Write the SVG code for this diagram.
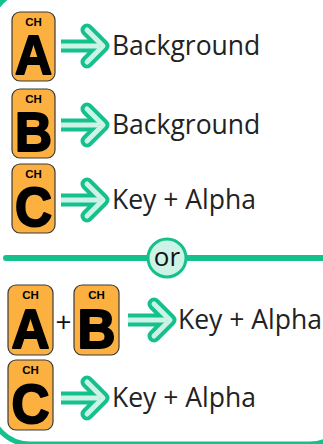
<svg xmlns="http://www.w3.org/2000/svg" xmlns:xlink="http://www.w3.org/1999/xlink" width="323" height="444" viewBox="0 0 323 444">
<style>
.badge{fill:#fbb040;stroke:#3a3a3a;stroke-width:1.2}
.ch{font-family:"Liberation Sans",Arial,sans-serif;font-weight:bold;font-size:11.5px;fill:#000;text-anchor:middle}
.big{font-family:"Liberation Sans",Arial,sans-serif;font-weight:bold;font-size:55px;fill:#000;stroke:#000;stroke-width:2;stroke-linejoin:round;text-anchor:middle}
.lbl{font-family:"Open Sans","Noto Sans",sans-serif;font-size:26.5px;fill:#222}
.ag{fill:none;stroke:#14c08c;stroke-width:13}
.al{fill:none;stroke:#cdf3e6;stroke-width:5}
</style>
<defs>
<g id="arrow">
<path class="ag" d="M0,0 H36" stroke-linecap="butt"/>
<path class="ag" d="M26,-16 L42,0 L26,16" stroke-linecap="round" stroke-linejoin="round"/>
<path class="al" d="M0,0 H38" stroke-linecap="butt"/>
<path class="al" d="M26,-16 L42,0 L26,16" stroke-linecap="round" stroke-linejoin="round"/>
</g>
</defs>
<rect x="-10" y="-10" width="360" height="454" rx="40" fill="none" stroke="#14c08c" stroke-width="5"/>
<g id="connectors">
<use xlink:href="#arrow" transform="translate(61,46)"/>
<use xlink:href="#arrow" transform="translate(61,125)"/>
<use xlink:href="#arrow" transform="translate(61,200)"/>
<use xlink:href="#arrow" transform="translate(128,320)"/>
<use xlink:href="#arrow" transform="translate(61,398)"/>
</g>
<g id="badgeA1">
<rect class="badge" x="12" y="12" width="43" height="69" rx="8"/>
<text class="ch" x="33.5" y="25.5">CH</text>
<text class="big" x="33.5" y="74" textLength="37" lengthAdjust="spacingAndGlyphs">A</text>
</g>
<g id="badgeB1">
<rect class="badge" x="12" y="89" width="43" height="69" rx="8"/>
<text class="ch" x="33.5" y="102.5">CH</text>
<text class="big" x="33.5" y="151" textLength="37" lengthAdjust="spacingAndGlyphs">B</text>
</g>
<g id="badgeC1">
<rect class="badge" x="12" y="164" width="43" height="69" rx="8"/>
<text class="ch" x="33.5" y="177.5">CH</text>
<text class="big" x="33.5" y="226" textLength="37" lengthAdjust="spacingAndGlyphs">C</text>
</g>
<g id="label1"><text class="lbl" x="112" y="55">Background</text></g>
<g id="label2"><text class="lbl" x="112" y="134">Background</text></g>
<g id="label3"><text class="lbl" x="112" y="209">Key + Alpha</text></g>
<g id="separator">
<line x1="6" y1="258" x2="330" y2="258" stroke="#14c08c" stroke-width="6" stroke-linecap="round"/>
<circle cx="167" cy="258" r="19" fill="#cdf3e6" stroke="#14c08c" stroke-width="3"/>
<text x="167" y="266" font-family="Open Sans, Noto Sans, sans-serif" font-size="26" fill="#111" text-anchor="middle">or</text>
</g>
<g id="badgeA2">
<rect class="badge" x="8" y="285" width="45" height="70" rx="8"/>
<text class="ch" x="30.5" y="298.5">CH</text>
<text class="big" x="30.5" y="348" textLength="38" lengthAdjust="spacingAndGlyphs">A</text>
</g>
<g id="plus"><text x="63.5" y="332" font-family="Open Sans, Noto Sans, sans-serif" font-size="28" fill="#111" text-anchor="middle">+</text></g>
<g id="badgeB2">
<rect class="badge" x="74" y="285" width="45" height="70" rx="8"/>
<text class="ch" x="96.5" y="298.5">CH</text>
<text class="big" x="96.5" y="348" textLength="38" lengthAdjust="spacingAndGlyphs">B</text>
</g>
<g id="label4"><text class="lbl" x="178" y="329">Key + Alpha</text></g>
<g id="badgeC2">
<rect class="badge" x="8" y="360" width="45" height="70" rx="8"/>
<text class="ch" x="30.5" y="373.5">CH</text>
<text class="big" x="30.5" y="423" textLength="38" lengthAdjust="spacingAndGlyphs">C</text>
</g>
<g id="label5"><text class="lbl" x="112" y="407">Key + Alpha</text></g>
</svg>
